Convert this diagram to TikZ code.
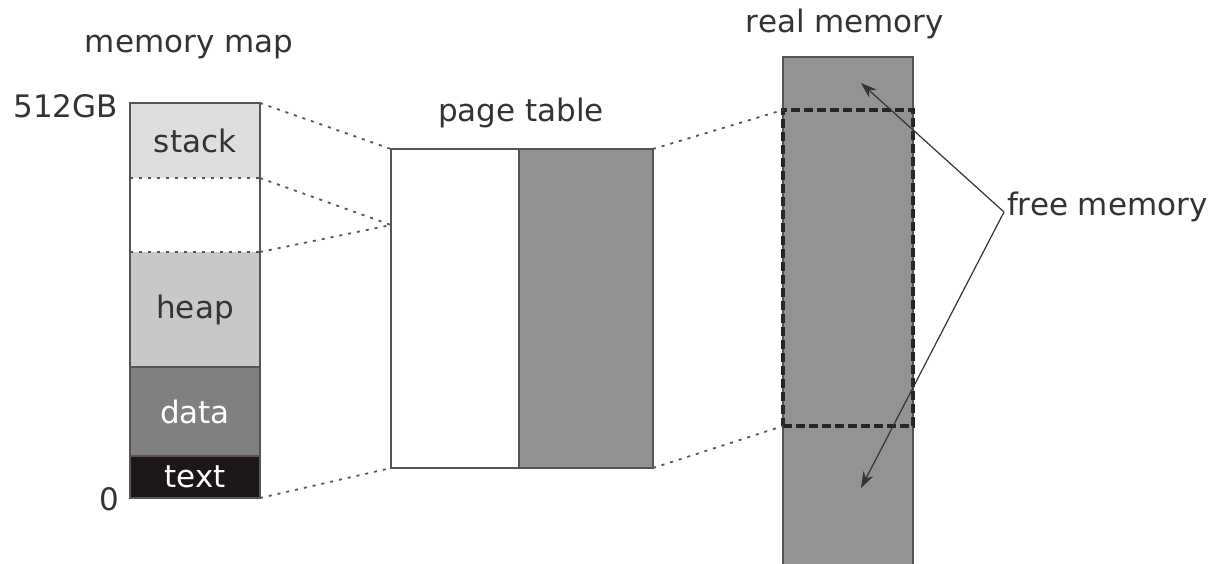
\documentclass[tikz,border=0pt]{standalone}
\usepackage{fontspec}
\setmainfont{DejaVu Sans}
\usetikzlibrary{arrows.meta}
\definecolor{txt}{HTML}{333333}
\definecolor{edge}{HTML}{555555}
\definecolor{stackc}{HTML}{DEDEDE}
\definecolor{heapc}{HTML}{C8C8C8}
\definecolor{datac}{HTML}{808080}
\definecolor{textc}{HTML}{1C1616}
\definecolor{ptc}{HTML}{919191}
\definecolor{realc}{HTML}{939393}
\tikzset{
  seg/.style={rectangle, inner sep=0pt, outer sep=0pt, anchor=north west, draw=none,
    font=\fontsize{31}{37}\selectfont, text=txt},
  lbl/.style={inner sep=0pt, outer sep=0pt, font=\fontsize{31}{37}\selectfont, text=txt},
  map/.style={draw=edge, line width=1.8pt, dash pattern=on 3pt off 6pt},
  frame/.style={draw=edge, line width=2.2pt},
  pointer/.style={draw=black!80, line width=1.2pt, -{Stealth[length=16pt,width=11pt]}}
}
\begin{document}
\begin{tikzpicture}[x=1pt,y=-1pt]
\useasboundingbox (0,0) rectangle (1218,564);
% memory map
\node[seg, fill=stackc, minimum width=130pt, minimum height=75pt] (stack) at (130,103) {stack};
\node[seg, fill=white, minimum width=130pt, minimum height=74pt] (gap) at (130,178) {};
\node[seg, fill=heapc, minimum width=130pt, minimum height=115pt] (heap) at (130,252) {heap};
\node[seg, fill=datac, minimum width=130pt, minimum height=89pt, text=white] (data) at (130,367) {data};
\node[seg, fill=textc, minimum width=130pt, minimum height=42pt, text=white] (textseg) at (130,456) {text};
\draw[frame] (stack.north west) rectangle (textseg.south east);
\draw[frame] (heap.south west) -- (heap.south east);
\draw[frame] (data.south west) -- (data.south east);
\draw[map] (stack.south west) -- (stack.south east);
\draw[map] (heap.north west) -- (heap.north east);
\node[lbl] (mmap) at (189,47) {memory map};
\node[lbl, anchor=base east] (top) at (118,118) {512GB};
\node[lbl, anchor=base east] (zero) at (119,510) {0};
% page table
\node[seg, fill=white, minimum width=128pt, minimum height=319pt] (ptl) at (391,149) {};
\node[seg, fill=ptc, minimum width=134pt, minimum height=319pt] (ptr) at (519,149) {};
\draw[frame] (ptl.north west) rectangle (ptr.south east);
\draw[frame] (ptr.north west) -- (ptr.south west);
\node[lbl, anchor=base] (ptitle) at (521,122) {page table};
\coordinate (pin) at (391,225);
% real memory
\node[seg, fill=realc, minimum width=130pt, minimum height=520pt] (real) at (783,57) {};
\draw[frame, line width=1.6pt] (real.south west) -- (real.north west) -- (real.north east) -- (real.south east);
\node[seg, minimum width=130pt, minimum height=316pt, draw=black!85, line width=3.2pt, dash pattern=on 9pt off 4pt] (used) at (783,110) {};
\node[lbl, anchor=base] (rtitle) at (845,33) {real memory};
% mapping lines
\draw[map] (stack.north east) -- (ptl.north west);
\draw[map] (stack.south east) -- (pin);
\draw[map] (heap.north east) -- (pin);
\draw[map] (textseg.south east) -- (ptl.south west);
\draw[map] (ptr.north east) -- (used.north west);
\draw[map] (ptr.south east) -- (used.south west);
% free memory callout
\coordinate (vtx) at (1004,212);
\coordinate (fa) at (861,83);
\coordinate (fb) at (861,488);
\node[lbl, anchor=base west] (free) at (1007,215) {free memory};
\draw[pointer] (vtx) -- (fa);
\draw[pointer] (vtx) -- (fb);
\end{tikzpicture}
\end{document}
